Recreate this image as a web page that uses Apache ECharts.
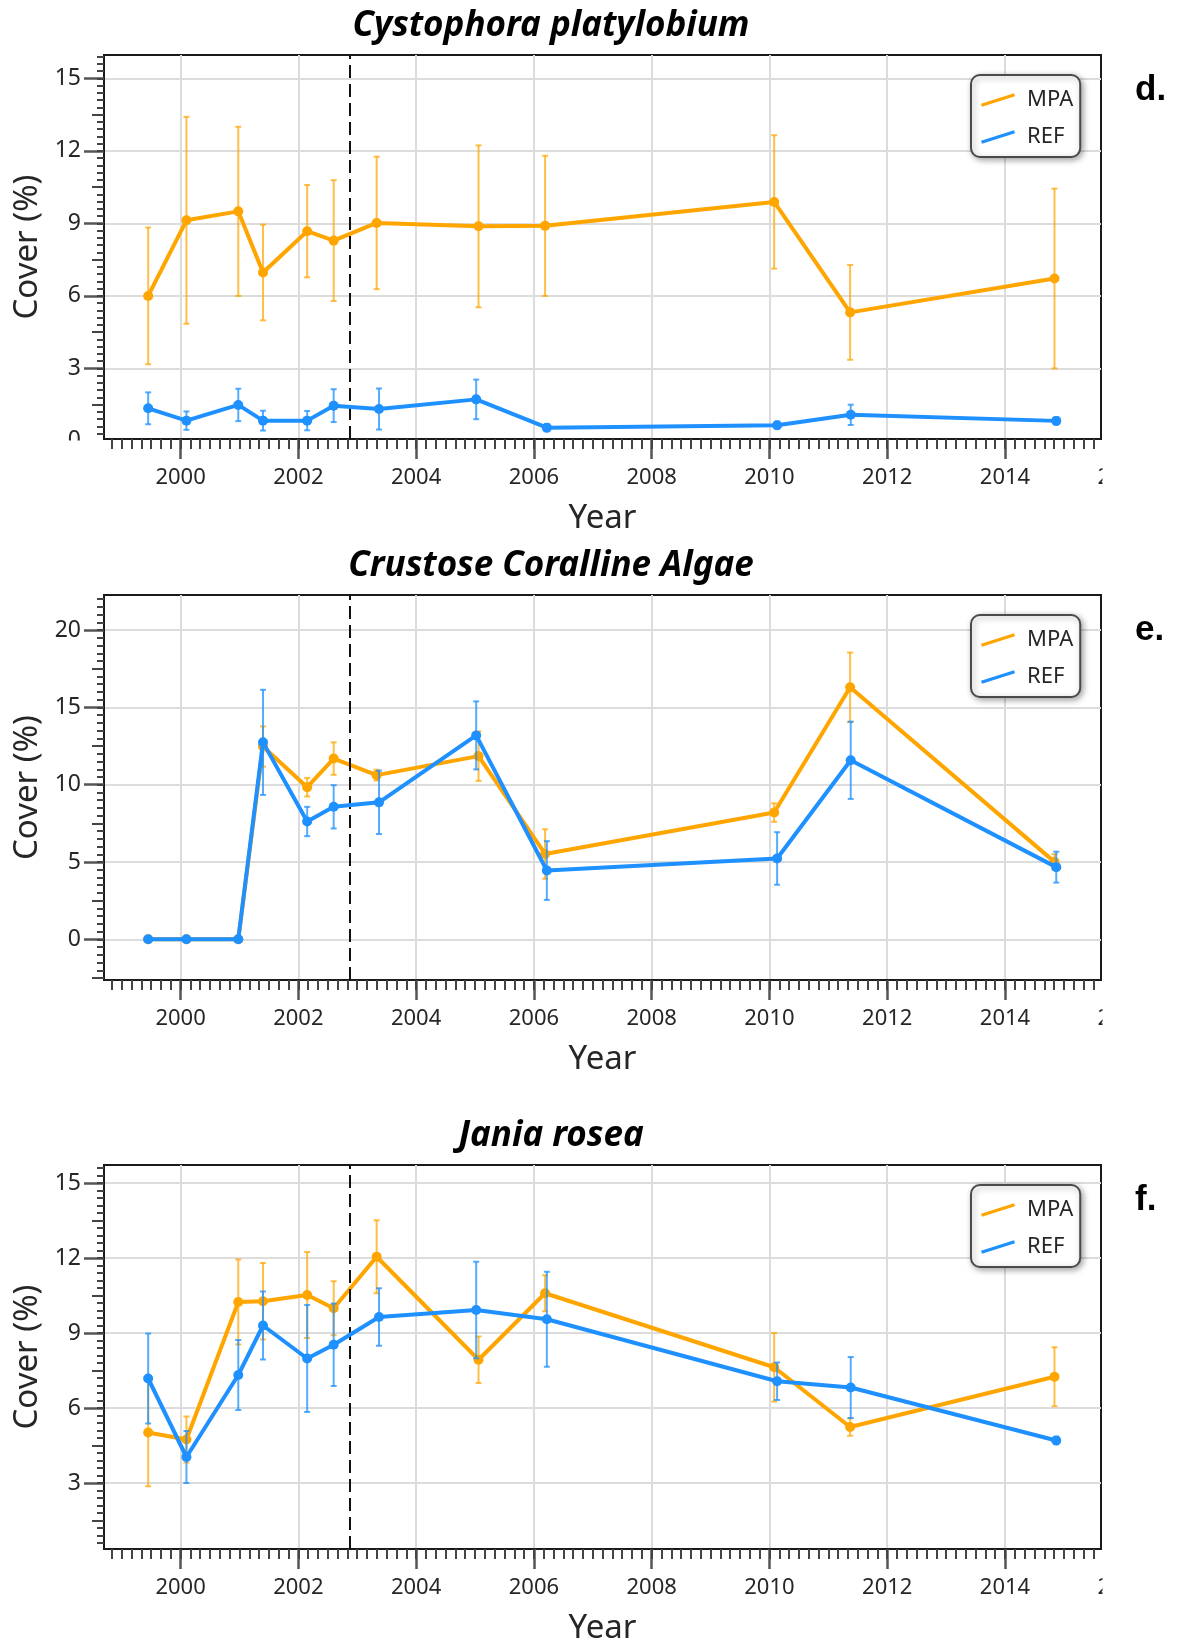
<!DOCTYPE html>
<html>
<head>
<meta charset="utf-8">
<script src="https://cdn.jsdelivr.net/npm/echarts@6/dist/echarts.min.js"></script>
<style>
  html, body { margin: 0; padding: 0; background: #fff; }
  #chart { width: 1180px; height: 1645px; }
</style>
</head>
<body>
<div id="chart"></div>
<script>
// Survey dates (decimal years); the two site groups were sampled a few days apart
const mpaDates = [1999.45, 2000.10, 2000.98, 2001.40, 2002.15, 2002.60, 2003.33, 2005.06, 2006.19, 2010.08, 2011.37, 2014.84];
const refDates = [1999.45, 2000.10, 2000.98, 2001.40, 2002.15, 2002.60, 2003.37, 2005.02, 2006.22, 2010.13, 2011.38, 2014.87];

// Date the marine protected area came into force (dashed line)
const mpaEstablished = 2002.87;

// d. Cystophora platylobium — mean cover (%) and error
const cystoMpa    = [6.00, 9.13, 9.50, 6.97, 8.68, 8.29, 9.02, 8.88, 8.90, 9.89, 5.32, 6.72];
const cystoMpaErr = [2.83, 4.28, 3.50, 1.98, 1.91, 2.50, 2.74, 3.35, 2.90, 2.76, 1.96, 3.72];
const cystoRef    = [1.35, 0.84, 1.49, 0.84, 0.84, 1.46, 1.32, 1.72, 0.55, 0.65, 1.08, 0.83];
const cystoRefErr = [0.66, 0.38, 0.67, 0.41, 0.40, 0.68, 0.85, 0.82, 0.15, 0.15, 0.42, 0.15];

// e. Crustose Coralline Algae
const ccaMpa    = [0, 0, 0, 12.47, 9.84, 11.69, 10.62, 11.85, 5.52, 8.20, 16.30, 5.01];
const ccaMpaErr = [0, 0, 0, 1.30, 0.60, 1.05, 0.35, 1.60, 1.60, 0.60, 2.25, 0.50];
const ccaRef    = [0, 0, 0, 12.74, 7.62, 8.57, 8.86, 13.19, 4.45, 5.23, 11.58, 4.67];
const ccaRefErr = [0, 0, 0, 3.40, 0.95, 1.40, 2.05, 2.20, 1.90, 1.70, 2.50, 1.00];

// f. Jania rosea
const janiaMpa    = [5.02, 4.74, 10.24, 10.27, 10.52, 9.99, 12.05, 7.93, 10.59, 7.63, 5.24, 7.25];
const janiaMpaErr = [2.15, 0.92, 1.70, 1.53, 1.72, 1.08, 1.46, 0.93, 0.72, 1.37, 0.35, 1.18];
const janiaRef    = [7.18, 4.04, 7.32, 9.30, 7.98, 8.53, 9.64, 9.92, 9.55, 7.07, 6.82, 4.70];
const janiaRefErr = [1.80, 1.04, 1.40, 1.36, 2.14, 1.65, 1.15, 1.93, 1.90, 0.75, 1.22, 0.15];

// Titles and tick labels
const panelTitles  = ['Cystophora platylobium', 'Crustose Coralline Algae', 'Jania rosea'];
const panelLetters = ['d.', 'e.', 'f.'];
const seriesNames  = ['MPA', 'REF'];
const yearTicks    = [2000, 2002, 2004, 2006, 2008, 2010, 2012, 2014];
const cystoYTicks  = [3, 6, 9, 12, 15];
const ccaYTicks    = [0, 5, 10, 15, 20];
const janiaYTicks  = [3, 6, 9, 12, 15];

// ---- styling / layout ----
const ORANGE = '#FFA500';
const BLUE = '#1E90FF';
const ORANGE_ERR = 'rgba(255,165,0,0.72)';
const BLUE_ERR = 'rgba(30,144,255,0.75)';
const AXIS_COLOR = '#1a1a1a';
const TEXT_COLOR = '#262626';
const FONT = 'Noto Sans';

const X_MIN = 1998.70, X_MAX = 2015.63;
const GRID_LEFT = 104, GRID_WIDTH = 997;

const panels = [
  { mpa: cystoMpa, mpaErr: cystoMpaErr, ref: cystoRef, refErr: cystoRefErr,
    yTicks: cystoYTicks, yStep: 3, yMin: 0.08, yMax: 15.97, top: 55, height: 384, cutZero: true },
  { mpa: ccaMpa, mpaErr: ccaMpaErr, ref: ccaRef, refErr: ccaRefErr,
    yTicks: ccaYTicks, yStep: 5, yMin: -2.63, yMax: 22.27, top: 595, height: 385, cutZero: false },
  { mpa: janiaMpa, mpaErr: janiaMpaErr, ref: janiaRef, refErr: janiaRefErr,
    yTicks: janiaYTicks, yStep: 3, yMin: 0.36, yMax: 15.72, top: 1165, height: 384, cutZero: false }
];

// evenly spaced tick values inside [min, max]
function stepsWithin(min, max, step, offset) {
  const out = [];
  let k = Math.ceil((min - offset) / step - 1e-9);
  for (;; k++) {
    const v = +(offset + k * step).toFixed(6);
    if (v > max + 1e-9) break;
    out.push(v);
  }
  return out;
}

const monthTicks = stepsWithin(X_MIN, X_MAX, 1 / 6, 0);

function errorBars(name, dates, means, errs, color, xi, yi, z, extra) {
  return Object.assign({
    type: 'custom',
    name: name,
    xAxisIndex: xi,
    yAxisIndex: yi,
    z: z,
    silent: true,
    dimensions: ['date', 'low', 'high'],
    encode: { x: 0, y: [1, 2] },
    data: dates.map((d, k) => [d, means[k] - errs[k], means[k] + errs[k]]),
    renderItem: function (params, api) {
      const x = api.value(0), lo = api.value(1), hi = api.value(2);
      if (!(hi - lo > 0)) return null;
      const top = api.coord([x, hi]);
      const bot = api.coord([x, lo]);
      const cap = 3;
      const st = { stroke: color, lineWidth: 2 };
      return {
        type: 'group',
        children: [
          { type: 'line', shape: { x1: top[0], y1: top[1], x2: bot[0], y2: bot[1] }, style: st },
          { type: 'line', shape: { x1: top[0] - cap, y1: top[1], x2: top[0] + cap, y2: top[1] }, style: st },
          { type: 'line', shape: { x1: bot[0] - cap, y1: bot[1], x2: bot[0] + cap, y2: bot[1] }, style: st }
        ]
      };
    }
  }, extra || {});
}

function meanLine(name, dates, means, color, xi, yi, z) {
  return {
    type: 'line',
    name: name,
    xAxisIndex: xi,
    yAxisIndex: yi,
    z: z,
    data: dates.map((d, k) => [d, means[k]]),
    symbol: 'circle',
    symbolSize: 10,
    showAllSymbol: true,
    lineStyle: { color: color, width: 4 },
    itemStyle: { color: color },
    emphasis: { disabled: true }
  };
}

const option = {
  animation: false,
  backgroundColor: '#ffffff',
  textStyle: { fontFamily: FONT },
  grid: [], xAxis: [], yAxis: [], series: [], legend: [], graphic: []
};

panels.forEach((p, i) => {
  option.grid.push({
    left: GRID_LEFT, width: GRID_WIDTH, top: p.top, height: p.height,
    show: true, borderColor: AXIS_COLOR, borderWidth: 2,
    backgroundColor: 'transparent', containLabel: false, outerBoundsMode: 'none'
  });

  const xMain = option.xAxis.length;
  option.xAxis.push({
    gridIndex: i, type: 'value', position: 'bottom',
    min: X_MIN, max: X_MAX, splitNumber: 8,
    axisLine: { show: true, onZero: false, lineStyle: { color: AXIS_COLOR, width: 2 } },
    axisTick: { show: true, customValues: yearTicks, length: 20, lineStyle: { color: '#555', width: 2.5 } },
    axisLabel: { show: true, customValues: yearTicks, margin: 28, fontSize: 22,
      color: TEXT_COLOR, fontFamily: FONT, formatter: v => String(v) },
    splitLine: { show: true, lineStyle: { color: '#dcdcdc', width: 2 } },
    name: 'Year', nameLocation: 'middle', nameGap: 63,
    nameTextStyle: { fontSize: 33, color: TEXT_COLOR, fontFamily: FONT }
  });
  option.xAxis.push({
    gridIndex: i, type: 'value', position: 'bottom',
    min: X_MIN, max: X_MAX,
    axisLine: { show: false, onZero: false },
    axisTick: { show: true, customValues: monthTicks, length: 10, lineStyle: { color: '#444', width: 2 } },
    axisLabel: { show: false },
    splitLine: { show: false }
  });

  const yMain = option.yAxis.length;
  const minorY = stepsWithin(p.yMin, p.yMax, p.yStep / 10, 0);
  const midY = stepsWithin(p.yMin, p.yMax, p.yStep, p.yStep / 2);
  option.yAxis.push({
    gridIndex: i, type: 'value', position: 'left',
    min: p.yMin, max: p.yMax, splitNumber: 5,
    axisLine: { show: true, onZero: false, lineStyle: { color: AXIS_COLOR, width: 2 } },
    axisTick: { show: true, customValues: p.yTicks, length: 20, lineStyle: { color: '#555', width: 2.5 } },
    axisLabel: { show: true, customValues: p.yTicks, margin: 23, fontSize: 23,
      color: TEXT_COLOR, fontFamily: FONT, formatter: v => String(v) },
    splitLine: { show: true, lineStyle: { color: '#dcdcdc', width: 2 } },
    name: 'Cover (%)', nameLocation: 'middle', nameGap: 59, nameRotate: 90,
    nameTextStyle: { fontSize: 33, color: TEXT_COLOR, fontFamily: FONT }
  });
  option.yAxis.push({
    gridIndex: i, type: 'value', position: 'left', min: p.yMin, max: p.yMax,
    axisLine: { show: false, onZero: false },
    axisTick: { show: true, customValues: minorY, length: 7, lineStyle: { color: '#444', width: 2 } },
    axisLabel: { show: false }, splitLine: { show: false }
  });
  option.yAxis.push({
    gridIndex: i, type: 'value', position: 'left', min: p.yMin, max: p.yMax,
    axisLine: { show: false, onZero: false },
    axisTick: { show: true, customValues: midY, length: 12, lineStyle: { color: '#444', width: 2 } },
    axisLabel: { show: false }, splitLine: { show: false }
  });

  option.series.push(meanLine(seriesNames[0], mpaDates, p.mpa, ORANGE, xMain, yMain, 3));
  option.series.push(meanLine(seriesNames[1], refDates, p.ref, BLUE, xMain, yMain, 5));
  option.series.push(errorBars(seriesNames[0], mpaDates, p.mpa, p.mpaErr, ORANGE_ERR, xMain, yMain, 2, {
    markLine: {
      silent: true, symbol: 'none', label: { show: false },
      lineStyle: { color: '#111', type: [13, 6], width: 2 },
      data: [{ xAxis: mpaEstablished }]
    }
  }));
  option.series.push(errorBars(seriesNames[1], refDates, p.ref, p.refErr, BLUE_ERR, xMain, yMain, 4));

  option.legend.push({
    orient: 'vertical', left: 971, top: p.top + 20,
    data: [
      { name: seriesNames[0], itemStyle: { color: ORANGE } },
      { name: seriesNames[1], itemStyle: { color: BLUE } }
    ],
    icon: 'path://M0,10.5L33,0L34,3.2L1,13.7Z',
    itemWidth: 34, itemHeight: 14, itemGap: 15,
    padding: [14, 7, 9, 10],
    backgroundColor: '#fff', borderColor: '#4a4a4a', borderWidth: 2, borderRadius: 9,
    shadowBlur: 6, shadowColor: 'rgba(0,0,0,0.35)', shadowOffsetX: 2, shadowOffsetY: 2,
    selectedMode: false,
    itemStyle: { borderWidth: 0 },
    textStyle: { fontFamily: FONT, fontSize: 22, color: TEXT_COLOR, padding: [0, 0, 0, 7] }
  });

  option.graphic.push({
    type: 'text', id: 'title' + i, x: 551, y: p.top - 29, z: 10,
    style: {
      text: panelTitles[i], fill: '#000',
      font: 'italic bold 35px "Noto Sans"',
      align: 'center', verticalAlign: 'middle'
    }
  });
  option.graphic.push({
    type: 'text', id: 'letter' + i, x: 1135, y: p.top + 35, z: 10,
    style: {
      text: panelLetters[i], fill: '#000',
      font: 'bold 35px "Liberation Sans"',
      align: 'left', verticalAlign: 'middle'
    }
  });
});

const chart = echarts.init(document.getElementById('chart'), null, { renderer: 'canvas' });
chart.setOption(option);

// Tick labels that sit just past the plot edge and are cut off by it
const extras = [];
panels.forEach((p, i) => {
  const xMain = 2 * i, yMain = 3 * i;
  const bottom = p.top + p.height;
  const right = GRID_LEFT + GRID_WIDTH;
  const x2016 = chart.convertToPixel({ xAxisIndex: xMain }, 2016);
  extras.push({
    type: 'text', id: 'cut2016_' + i, x: x2016, y: bottom + 39, z: 20,
    style: { text: '2016', fill: TEXT_COLOR, font: '22px "Noto Sans"', align: 'center', verticalAlign: 'middle' }
  });
  extras.push({
    type: 'rect', id: 'mask2016_' + i, z: 21,
    shape: { x: right + 1.5, y: bottom + 22, width: 1180 - right, height: 36 },
    style: { fill: '#fff' }
  });
  if (p.cutZero) {
    const y0 = chart.convertToPixel({ yAxisIndex: yMain }, 0);
    extras.push({
      type: 'text', id: 'cut0_' + i, x: GRID_LEFT - 23, y: y0, z: 20,
      style: { text: '0', fill: TEXT_COLOR, font: '23px "Noto Sans"', align: 'right', verticalAlign: 'middle' }
    });
    extras.push({
      type: 'rect', id: 'mask0_' + i, z: 21,
      shape: { x: 40, y: bottom + 1.5, width: GRID_LEFT - 44, height: 24 },
      style: { fill: '#fff' }
    });
  }
});
chart.setOption({ graphic: extras });
</script>
</body>
</html>
